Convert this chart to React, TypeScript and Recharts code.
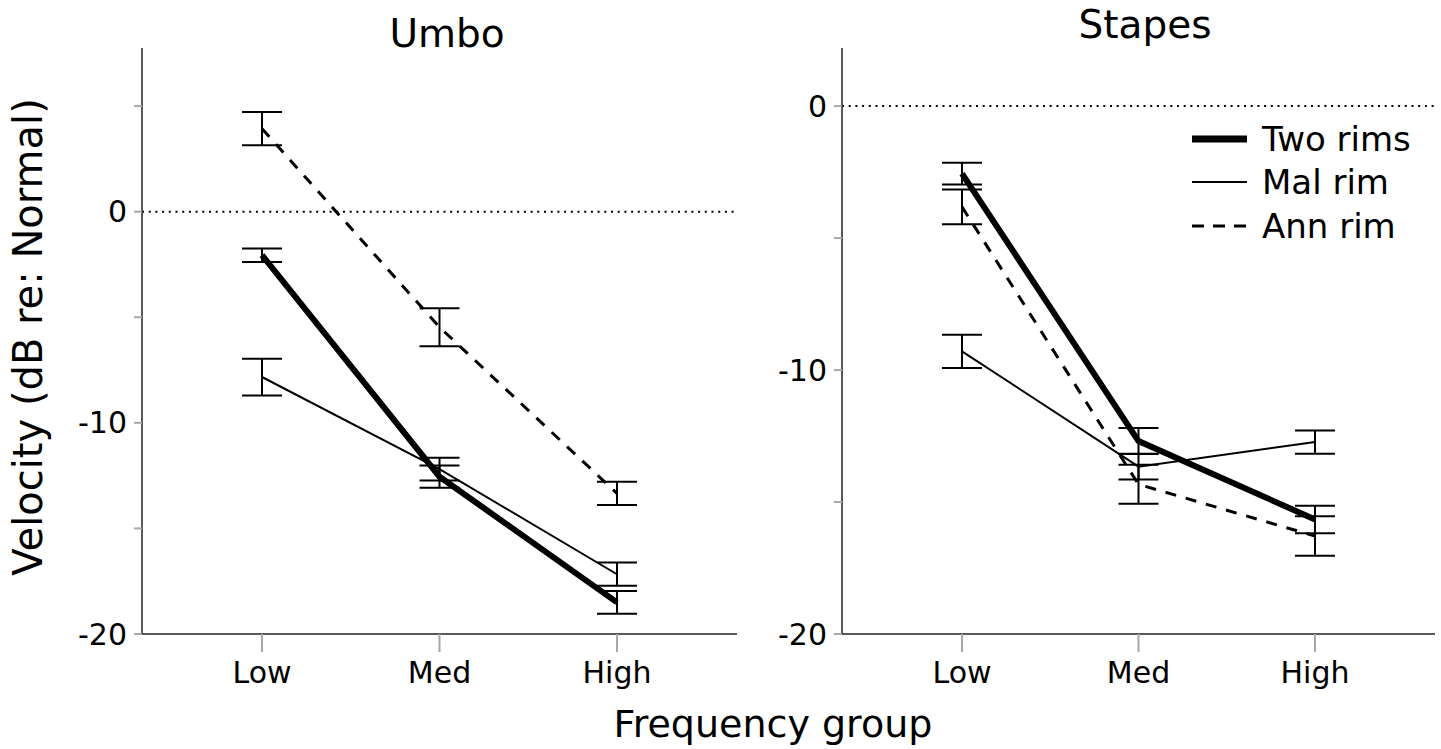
import React from "react"
import { LineChart, Line, XAxis, YAxis, ErrorBar, ReferenceLine } from "recharts"

const FONT = "'DejaVu Sans', Verdana, sans-serif"

const GROUPS = ["Low", "Med", "High"]

// Umbo panel (dB re: Normal), mean and half-width of error bar
const UMBO_TWO = [-2.06, -12.55, -18.5]
const UMBO_TWO_ERR = [0.32, 0.53, 0.54]
const UMBO_MAL = [-7.83, -12.19, -17.17]
const UMBO_MAL_ERR = [0.87, 0.54, 0.55]
const UMBO_ANN = [3.93, -5.47, -13.34]
const UMBO_ANN_ERR = [0.79, 0.9, 0.55]

// Stapes panel
const STAPES_TWO = [-2.56, -12.69, -15.66]
const STAPES_TWO_ERR = [0.41, 0.49, 0.52]
const STAPES_MAL = [-9.29, -13.66, -12.73]
const STAPES_MAL_ERR = [0.63, 0.49, 0.44]
const STAPES_ANN = [-3.82, -14.33, -16.29]
const STAPES_ANN_ERR = [0.66, 0.74, 0.75]

const UMBO_TICKS = [-20, -15, -10, -5, 0, 5]
const STAPES_TICKS = [-20, -15, -10, -5, 0]

const SERIES = [
  { key: "two", name: "Two rims", width: 6, dash: undefined as string | undefined },
  { key: "mal", name: "Mal rim", width: 2, dash: undefined as string | undefined },
  { key: "ann", name: "Ann rim", width: 3, dash: "11 10" },
]

const umboData = GROUPS.map((g, i) => ({
  group: g,
  two: UMBO_TWO[i],
  twoErr: UMBO_TWO_ERR[i],
  mal: UMBO_MAL[i],
  malErr: UMBO_MAL_ERR[i],
  ann: UMBO_ANN[i],
  annErr: UMBO_ANN_ERR[i],
}))

const stapesData = GROUPS.map((g, i) => ({
  group: g,
  two: STAPES_TWO[i],
  twoErr: STAPES_TWO_ERR[i],
  mal: STAPES_MAL[i],
  malErr: STAPES_MAL_ERR[i],
  ann: STAPES_ANN[i],
  annErr: STAPES_ANN_ERR[i],
}))

interface PanelProps {
  data: Array<Record<string, unknown>>
  ticks: number[]
  top: number
  left: number
  width: number
  margin: { top: number; right: number; bottom: number; left: number }
}

function Panel({ data, ticks, top, left, width, margin }: PanelProps) {
  return (
    <div style={{ position: "absolute", left, top: 0 }}>
      <LineChart width={width} height={749} data={data} margin={margin}>
        <XAxis
          dataKey="group"
          padding={{ left: 120, right: 120 }}
          height={60}
          tickSize={18}
          tickMargin={10}
          tick={{ fontSize: 30, fill: "#000", fontFamily: FONT }}
          tickLine={{ stroke: "#a8a8a8", strokeWidth: 2 }}
          axisLine={{ stroke: "#222", strokeWidth: 1.5 }}
        />
        <YAxis
          type="number"
          domain={[-20, top]}
          ticks={ticks}
          interval={0}
          allowDataOverflow
          width={60}
          tickSize={8}
          tickMargin={7}
          tickFormatter={(v: number) => (v % 10 === 0 ? String(v) : "")}
          tick={{ fontSize: 30, fill: "#000", fontFamily: FONT }}
          tickLine={{ stroke: "#a8a8a8", strokeWidth: 2 }}
          axisLine={{ stroke: "#222", strokeWidth: 1.5 }}
        />
        <ReferenceLine y={0} stroke="#000" strokeWidth={2} strokeDasharray="2 4.7" />
        {SERIES.map((s) => (
          <Line
            key={s.key}
            type="linear"
            dataKey={s.key}
            name={s.name}
            stroke="#000"
            strokeWidth={s.width}
            strokeDasharray={s.dash}
            dot={false}
            activeDot={false}
            isAnimationActive={false}
          >
            <ErrorBar
              dataKey={s.key + "Err"}
              direction="y"
              width={20}
              stroke="#000"
              strokeWidth={2}
              isAnimationActive={false}
            />
          </Line>
        ))}
      </LineChart>
    </div>
  )
}

const LEGEND_Y = [139, 182, 226]

export default function App() {
  return (
    <div style={{ position: "absolute", left: 0, top: 0, width: 1441, height: 749, background: "#fff" }}>
      <Panel
        data={umboData}
        ticks={UMBO_TICKS}
        top={7.75}
        left={0}
        width={760}
        margin={{ top: 48, right: 23, bottom: 55, left: 82 }}
      />
      <Panel
        data={stapesData}
        ticks={STAPES_TICKS}
        top={2.2}
        left={760}
        width={681}
        margin={{ top: 48, right: 6, bottom: 55, left: 22 }}
      />
      <svg
        width={1441}
        height={749}
        style={{ position: "absolute", left: 0, top: 0, pointerEvents: "none" }}
        fontFamily={FONT}
      >
        <text x={447} y={47} fontSize={39} textAnchor="middle" fill="#000">Umbo</text>
        <text x={1145} y={38} fontSize={39} textAnchor="middle" fill="#000">Stapes</text>
        <text x={773} y={737} fontSize={38} textAnchor="middle" fill="#000">Frequency group</text>
        <text
          x={0}
          y={0}
          fontSize={40}
          textAnchor="middle"
          fill="#000"
          transform="translate(42 337) rotate(-90)"
        >
          Velocity (dB re: Normal)
        </text>
        {SERIES.map((s, i) => (
          <g key={s.key}>
            <line
              x1={1192}
              x2={1247}
              y1={LEGEND_Y[i]}
              y2={LEGEND_Y[i]}
              stroke="#000"
              strokeWidth={s.key === "two" ? 7 : s.width}
              strokeDasharray={s.dash ? "12 9" : undefined}
            />
            <text x={1262} y={LEGEND_Y[i] + 12} fontSize={34} fill="#000">
              {s.name}
            </text>
          </g>
        ))}
      </svg>
    </div>
  )
}
